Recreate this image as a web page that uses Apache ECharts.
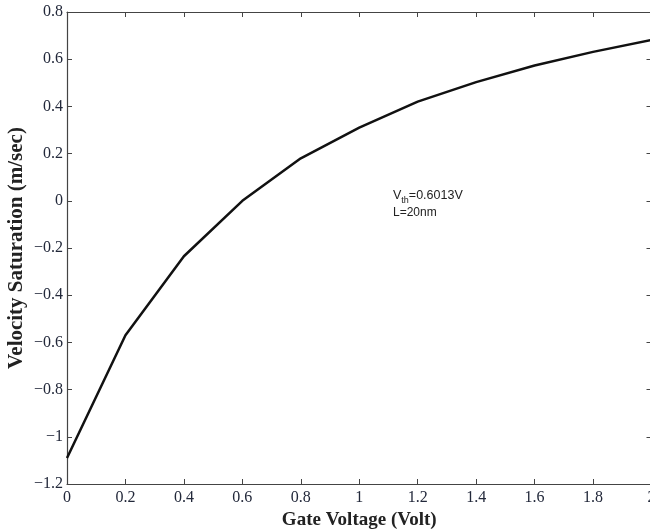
<!DOCTYPE html>
<html>
<head>
<meta charset="utf-8">
<script src="https://cdn.jsdelivr.net/npm/echarts@6/dist/echarts.min.js"></script>
<style>
  html, body { margin: 0; padding: 0; background: #fff; }
  #chart { width: 650px; height: 529px; }
</style>
</head>
<body>
<div id="chart"></div>
<script>
// Gate voltage sweep (V) and the resulting velocity saturation (m/sec)
const gateVoltage = [0, 0.2, 0.4, 0.6, 0.8, 1.0, 1.2, 1.4, 1.6, 1.8, 2.0];
const velocitySat = [-1.09, -0.57, -0.235, 0.0, 0.18, 0.31, 0.42, 0.503, 0.573, 0.631, 0.682];

// Axis ranges / tick steps
const xRange = [0, 2];
const xStep = 0.2;
const yRange = [-1.2, 0.8];
const yStep = 0.2;

const serif = '"Liberation Serif", "DejaVu Serif", serif';
const sans = '"Liberation Sans", Arial, sans-serif';
const axisCol = '#444';
const labelCol = '#22283a';

const fmt = v => {
  const r = Math.round(v * 10) / 10;
  return String(r).replace('-', '\u2212');
};

const chart = echarts.init(document.getElementById('chart'));

const tickStyle = { inside: true, length: 5, lineStyle: { color: axisCol, width: 1 } };
const lineStyle = { onZero: false, lineStyle: { color: axisCol, width: 1.2 } };

chart.setOption({
  animation: false,
  backgroundColor: '#fff',
  grid: {
    left: 67, top: 12, width: 584.5, height: 472,
    containLabel: false, outerBoundsMode: 'none'
  },
  xAxis: [
    {
      type: 'value', min: xRange[0], max: xRange[1], interval: xStep,
      position: 'bottom',
      axisLine: lineStyle, axisTick: tickStyle, splitLine: { show: false },
      axisLabel: { margin: 6, color: labelCol, fontFamily: serif, fontSize: 16, formatter: fmt },
      name: 'Gate Voltage (Volt)', nameLocation: 'middle', nameGap: 25,
      nameTextStyle: { fontFamily: serif, fontSize: 19, fontWeight: 'bold', color: '#222' }
    },
    {
      type: 'value', min: xRange[0], max: xRange[1], interval: xStep,
      position: 'top',
      axisLine: lineStyle, axisTick: tickStyle, splitLine: { show: false },
      axisLabel: { show: false }
    }
  ],
  yAxis: [
    {
      type: 'value', min: yRange[0], max: yRange[1], interval: yStep,
      position: 'left',
      axisLine: lineStyle, axisTick: tickStyle, splitLine: { show: false },
      axisLabel: { margin: 4, color: labelCol, fontFamily: serif, fontSize: 16, formatter: fmt },
      name: 'Velocity Saturation (m/sec)', nameLocation: 'middle', nameGap: 40, nameRotate: 90,
      nameMoveOverlap: false,
      nameTextStyle: { fontFamily: serif, fontSize: 21, fontWeight: 'bold', color: '#222' }
    },
    {
      type: 'value', min: yRange[0], max: yRange[1], interval: yStep,
      position: 'right',
      axisLine: lineStyle, axisTick: tickStyle, splitLine: { show: false },
      axisLabel: { show: false }
    }
  ],
  series: [
    {
      type: 'line',
      data: gateVoltage.map((x, i) => [x, velocitySat[i]]),
      showSymbol: false,
      lineStyle: { color: '#111', width: 2.5 },
      clip: false
    }
  ],
  graphic: [
    {
      type: 'text', left: 393, top: 187,
      style: {
        text: '{v|V}{s|th}{v|=0.6013V}',
        rich: {
          v: { fontFamily: sans, fontSize: 12.5, fill: '#222', lineHeight: 14 },
          s: { fontFamily: sans, fontSize: 9, fill: '#222', padding: [9, 0, 0, 0], lineHeight: 14 }
        }
      }
    },
    {
      type: 'text', left: 393, top: 207,
      style: { text: 'L=20nm', fontFamily: sans, fontSize: 12, fill: '#222' }
    }
  ]
});
</script>
</body>
</html>
